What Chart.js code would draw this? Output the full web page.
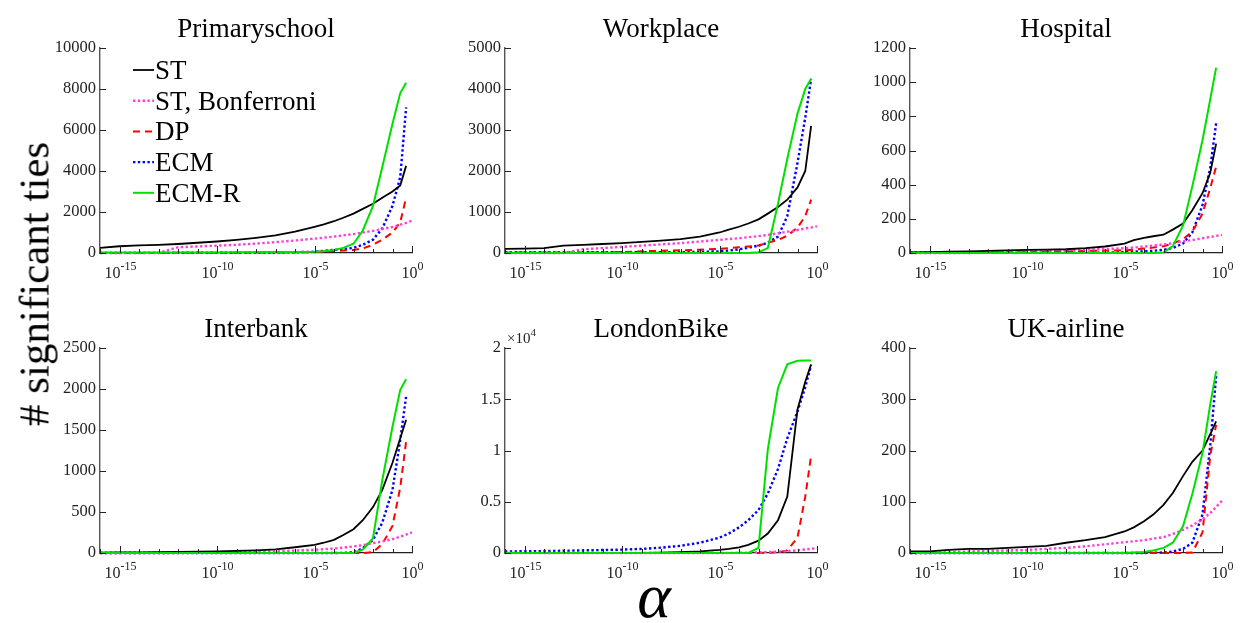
<!DOCTYPE html>
<html>
<head>
<meta charset="utf-8">
<script src="https://cdn.jsdelivr.net/npm/chart.js@4.4.1/dist/chart.umd.min.js"></script>
<style>
  body { margin: 0; background: #fff; }
  #fig { position: relative; width: 1241px; height: 623px; overflow: hidden; font-family: "Liberation Serif", "Times New Roman", serif; }
  #fig canvas { position: absolute; }
  #ylab { position: absolute; left: 34px; top: 284px; transform: translate(-50%, -50%) rotate(-90deg); font-size: 43px; white-space: nowrap; line-height: 1; }
  #xlab { position: absolute; left: 654px; top: 596px; transform: translate(-50%, -50%); font-size: 64px; font-style: italic; line-height: 1; }
</style>
</head>
<body>
<div id="fig">
  <canvas id="p1" width="402" height="293" style="left:40px;top:0px"></canvas>
  <canvas id="p2" width="402" height="293" style="left:445px;top:0px"></canvas>
  <canvas id="p3" width="402" height="293" style="left:850px;top:0px"></canvas>
  <canvas id="p4" width="402" height="293" style="left:40px;top:300px"></canvas>
  <canvas id="p5" width="402" height="293" style="left:445px;top:300px"></canvas>
  <canvas id="p6" width="402" height="293" style="left:850px;top:300px"></canvas>
  <div id="ylab"># significant ties</div>
  <div id="xlab">α</div>
</div>
<script>
// significance level grid shared by every panel
const alpha = [1e-16, 1e-15, 1e-14, 1e-13, 1e-12, 1e-11, 1e-10, 1e-9, 1e-8, 1e-7, 1e-6,
  1e-5, 3e-5, 1e-4, 3e-4, 1e-3, 3e-3, 1e-2, 3e-2, 0.1, 0.25, 0.5, 1];

const seriesNames = ["ST", "ST, Bonferroni", "DP", "ECM", "ECM-R"];
const panelTitles = ["Primaryschool", "Workplace", "Hospital", "Interbank", "LondonBike", "UK-airline"];

// Primaryschool
const schoolST   = [250, 330, 370, 400, 440, 500, 560, 640, 740, 860, 1040, 1280, 1400, 1550, 1720, 1920, 2150, 2400, 2700, 3000, 3300, 4250, null];
const schoolBonf = [0, 0, 0, 0, 280, 320, 360, 400, 460, 530, 610, 700, 750, 800, 860, 920, 1000, 1080, 1170, 1270, 1380, 1470, 1580];
const schoolDP   = [5, 5, 5, 5, 10, 10, 15, 15, 20, 25, 35, 50, 70, 100, 120, 150, 220, 400, 650, 1000, 1500, 2700, null];
const schoolECM  = [5, 5, 5, 5, 10, 10, 10, 15, 20, 25, 40, 60, 100, 150, 190, 250, 400, 650, 1200, 2300, 3700, 7100, null];
const schoolECMR = [30, 30, 30, 30, 30, 30, 30, 35, 40, 45, 50, 60, 90, 150, 250, 450, 1100, 2300, 4200, 6300, 7800, 8300, null];

// Workplace
const workST   = [100, 105, 120, 180, 200, 220, 240, 270, 300, 340, 400, 500, 570, 640, 720, 820, 960, 1120, 1300, 1600, 2000, 3100, null];
const workBonf = [0, 0, 0, 0, 90, 120, 150, 180, 210, 240, 280, 320, 340, 360, 385, 410, 440, 480, 520, 560, 600, 620, 650];
const workDP   = [10, 10, 10, 10, 10, 10, 25, 40, 55, 65, 80, 100, 120, 140, 160, 180, 250, 320, 420, 620, 900, 1300, null];
const workECM  = [20, 20, 20, 20, 20, 20, 20, 20, 20, 20, 30, 40, 60, 90, 130, 180, 250, 400, 900, 2200, 3300, 4250, null];
const workECMR = [0, 0, 0, 0, 0, 0, 0, 0, 0, 0, 0, 0, 0, 0, 0, 20, 120, 1200, 2300, 3400, 4000, 4250, null];

// Hospital
const hospST   = [3, 5, 8, 10, 12, 15, 18, 20, 22, 28, 38, 55, 75, 88, 98, 107, 137, 172, 250, 350, 470, 640, null];
const hospBonf = [0, 0, 0, 0, 5, 10, 14, 16, 18, 20, 23, 28, 32, 37, 43, 49, 58, 68, 76, 86, 94, 100, 106];
const hospDP   = [2, 2, 2, 2, 2, 4, 6, 8, 10, 12, 14, 16, 20, 26, 32, 40, 55, 80, 125, 230, 380, 505, null];
const hospECM  = [2, 2, 2, 2, 2, 2, 2, 2, 2, 2, 2, 5, 8, 10, 13, 18, 30, 55, 120, 280, 500, 760, null];
const hospECMR = [0, 0, 0, 0, 0, 0, 0, 0, 0, 0, 0, 0, 0, 0, 0, 3, 40, 160, 390, 660, 900, 1085, null];

// Interbank
const bankST   = [5, 6, 8, 10, 13, 16, 20, 25, 33, 45, 70, 100, 125, 160, 220, 290, 400, 560, 770, 1100, 1400, 1625, null];
const bankBonf = [0, 0, 0, 0, 0, 5, 8, 10, 14, 20, 30, 40, 47, 55, 65, 80, 95, 120, 140, 170, 200, 225, 252];
const bankDP   = [0, 0, 0, 0, 0, 0, 0, 0, 0, 0, 0, 0, 0, 0, 0, 0, 0, 10, 110, 330, 800, 1360, null];
const bankECM  = [0, 0, 0, 0, 0, 0, 0, 0, 0, 0, 0, 0, 0, 0, 2, 8, 60, 160, 370, 770, 1380, 1910, null];
const bankECMR = [0, 0, 0, 0, 0, 0, 0, 0, 0, 0, 0, 0, 0, 0, 0, 0, 40, 180, 890, 1540, 1990, 2120, null];

// LondonBike
const bikeST   = [0, 0, 0, 0, 0, 0, 0, 20, 40, 80, 150, 300, 400, 550, 800, 1200, 1900, 3200, 5500, 14000, 16700, 18400, null];
const bikeBonf = [0, 0, 0, 0, 0, 0, 0, 0, 0, 0, 0, 0, 10, 20, 40, 60, 90, 130, 180, 260, 340, 410, 480];
const bikeDP   = [0, 0, 0, 0, 0, 0, 0, 0, 0, 0, 0, 0, 0, 0, 0, 0, 30, 80, 250, 1500, 5500, 9500, null];
const bikeECM  = [150, 170, 190, 220, 250, 290, 330, 400, 520, 700, 1000, 1500, 1900, 2500, 3200, 4200, 5800, 8200, 11200, 13800, 16200, 18300, null];
const bikeECMR = [0, 0, 0, 0, 0, 0, 0, 0, 0, 0, 0, 0, 0, 0, 0, 500, 10100, 16100, 18400, 18750, 18780, 18780, null];

// UK-airline
const airST   = [3, 3, 6, 8, 8, 10, 12, 14, 20, 25, 31, 42, 50, 62, 75, 94, 117, 150, 178, 200, 232, 257, null];
const airBonf = [0, 0, 1, 3, 4, 5, 6, 8, 10, 13, 17, 21, 23, 25, 28, 31, 37, 45, 54, 66, 78, 90, 102];
const airDP   = [0, 0, 0, 0, 0, 0, 0, 0, 0, 0, 0, 0, 0, 0, 0, 0, 0, 0, 1, 40, 190, 250, null];
const airECM  = [0, 0, 0, 0, 0, 0, 0, 0, 0, 0, 0, 0, 0, 0, 0.5, 1, 3, 8, 20, 75, 210, 345, null];
const airECMR = [0, 0, 0, 0, 0, 0, 0, 0, 0, 0, 0, 0, 1, 2, 5, 10, 20, 52, 115, 195, 290, 355, null];

// y-axis ranges per panel
const yMax  = [10000, 5000, 1200, 2500, 20000, 400];
const yStep = [2000, 1000, 200, 500, 5000, 100];

const FONT = '"Liberation Serif", "Times New Roman", serif';

// line look for ST, Bonferroni, DP, ECM, ECM-R (ECM-R drawn on top)
const lineStyles = [
  { borderColor: "#000000", borderWidth: 1.8, borderDash: [], order: 1 },
  { borderColor: "#ff3fd8", borderWidth: 2.4, borderDash: [2.4, 2.4], order: 2 },
  { borderColor: "#ff0000", borderWidth: 2, borderDash: [7, 5], order: 3 },
  { borderColor: "#0000ff", borderWidth: 2.4, borderDash: [2.4, 2.4], order: 4 },
  { borderColor: "#00e000", borderWidth: 2, borderDash: [], order: 0 },
];

// inward tick marks plus "10^k" labels on the alpha axis
const axisMarks = {
  id: "axisMarks",
  afterDraw(chart) {
    const { ctx, chartArea: a, scales: { x, y } } = chart;
    ctx.save();
    ctx.strokeStyle = "#222";
    ctx.lineWidth = 1;
    ctx.fillStyle = "#222";
    x.ticks.forEach((t) => {
      const e = Math.round(Math.log10(t.value));
      const px = Math.round(x.getPixelForValue(t.value)) + 0.5;
      const len = e % 5 === 0 ? 7 : 4;
      ctx.beginPath();
      ctx.moveTo(px, a.bottom);
      ctx.lineTo(px, a.bottom - len);
      ctx.stroke();
      if (e % 5 === 0 && e > -16) {
        const exp = String(e);
        ctx.font = "16px " + FONT;
        const w1 = ctx.measureText("10").width;
        ctx.font = "12px " + FONT;
        const w2 = ctx.measureText(exp).width;
        const x0 = px - (w1 + w2) / 2;
        ctx.textBaseline = "alphabetic";
        ctx.textAlign = "left";
        ctx.font = "16px " + FONT;
        ctx.fillText("10", x0, a.bottom + 25);
        ctx.font = "12px " + FONT;
        ctx.fillText(exp, x0 + w1, a.bottom + 17);
      }
    });
    y.ticks.forEach((t) => {
      const py = Math.round(y.getPixelForValue(t.value)) + 0.5;
      ctx.beginPath();
      ctx.moveTo(a.left, py);
      ctx.lineTo(a.left + 6, py);
      ctx.stroke();
    });
    ctx.restore();
  },
};

// legend drawn inside the first panel
const insideLegend = {
  id: "insideLegend",
  afterDatasetsDraw(chart) {
    const { ctx, chartArea: a } = chart;
    ctx.save();
    chart.data.datasets.forEach((ds, i) => {
      const cy = a.top + 22 + i * 30.7;
      ctx.strokeStyle = ds.borderColor;
      ctx.lineWidth = ds.borderWidth;
      ctx.setLineDash(ds.borderDash);
      ctx.beginPath();
      ctx.moveTo(a.left + 33, cy);
      ctx.lineTo(a.left + 54, cy);
      ctx.stroke();
      ctx.setLineDash([]);
      ctx.fillStyle = "#000";
      ctx.font = "27px " + FONT;
      ctx.textBaseline = "alphabetic";
      ctx.textAlign = "left";
      ctx.fillText(ds.label, a.left + 55, cy + 9);
    });
    ctx.restore();
  },
};

// "x10^4" factor over the LondonBike y axis
const sciFactor = {
  id: "sciFactor",
  afterDraw(chart) {
    const { ctx, chartArea: a } = chart;
    ctx.save();
    ctx.fillStyle = "#222";
    ctx.textBaseline = "alphabetic";
    ctx.textAlign = "left";
    ctx.font = "15px " + FONT;
    ctx.fillText("×10", a.left + 2, a.top - 5);
    const w = ctx.measureText("×10").width;
    ctx.font = "11px " + FONT;
    ctx.fillText("4", a.left + 2 + w, a.top - 12);
    ctx.restore();
  },
};

const panelData = [
  [schoolST, schoolBonf, schoolDP, schoolECM, schoolECMR],
  [workST, workBonf, workDP, workECM, workECMR],
  [hospST, hospBonf, hospDP, hospECM, hospECMR],
  [bankST, bankBonf, bankDP, bankECM, bankECMR],
  [bikeST, bikeBonf, bikeDP, bikeECM, bikeECMR],
  [airST, airBonf, airDP, airECM, airECMR],
];

const decades = [];
for (let e = -16; e <= 0; e++) decades.push(Math.pow(10, e));

panelData.forEach((series, p) => {
  const extra = [axisMarks];
  if (p === 0) extra.push(insideLegend);
  if (p === 4) extra.push(sciFactor);

  new Chart(document.getElementById("p" + (p + 1)), {
    type: "line",
    data: {
      datasets: series.map((vals, i) => ({
        label: seriesNames[i],
        data: alpha.map((a, k) => ({ x: a, y: vals[k] })),
        ...lineStyles[i],
        pointRadius: 0,
        tension: 0,
        fill: false,
        clip: 4,
      })),
    },
    options: {
      responsive: false,
      animation: false,
      events: [],
      layout: { padding: { right: 30 } },
      plugins: {
        legend: { display: false },
        tooltip: { enabled: false },
        title: {
          display: true,
          text: panelTitles[p],
          fullSize: false,
          color: "#000",
          font: { family: FONT, size: 27, weight: "normal", lineHeight: 1.2 },
          padding: { top: 13.5, bottom: 2.1 },
        },
      },
      scales: {
        x: {
          type: "logarithmic",
          min: 1e-16,
          max: 1,
          afterBuildTicks: (s) => { s.ticks = decades.map((v) => ({ value: v })); },
          afterFit: (s) => { s.height = 40; },
          grid: { display: false, drawTicks: false },
          border: { display: true, color: "#222", width: 1.2 },
          ticks: { display: false },
        },
        y: {
          min: 0,
          max: yMax[p],
          afterFit: (s) => { s.width = 60; },
          grid: { display: false, drawTicks: false },
          border: { display: true, color: "#555", width: 1.4 },
          ticks: {
            stepSize: yStep[p],
            padding: 4,
            color: "#222",
            font: { family: FONT, size: 16.5 },
            callback: (v) => (p === 4 ? String(v / 10000) : String(v)),
          },
        },
      },
    },
    plugins: extra,
  });
});
</script>
</body>
</html>
